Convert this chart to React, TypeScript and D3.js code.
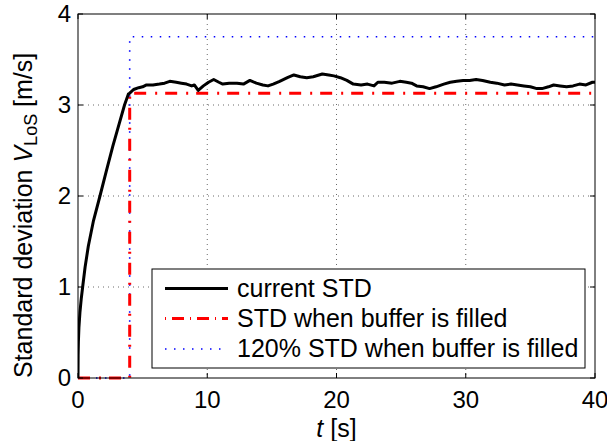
import React from "react";
import * as d3 from "d3";

const riseT = [0, 0.01, 0.03, 0.07, 0.15, 0.25, 0.36, 0.55, 0.8, 1.2, 1.7, 2.2, 2.7, 3.2, 3.6, 3.9, 4.0];
const riseV = [0, 0.25, 0.4, 0.55, 0.72, 0.87, 1.0, 1.22, 1.45, 1.73, 2.0, 2.28, 2.55, 2.8, 3.0, 3.12, 3.13];

const steadyT = [4.3, 4.7, 5.0, 5.3, 5.8, 6.3, 6.7, 7.1, 7.6, 8.0, 8.4, 8.8, 9.0, 9.3, 9.7, 10.1, 10.5, 10.9, 11.2, 11.7, 12.3, 12.8, 13.3, 13.8, 14.3, 14.7, 15.1, 15.6, 16.2, 16.7, 17.2, 17.7, 18.2, 18.9, 19.4, 19.8, 20.3, 20.8, 21.3, 21.9, 22.4, 22.9, 23.2, 23.7, 24.3, 24.9, 25.4, 25.8, 26.2, 26.7, 27.2, 27.7, 28.3, 28.8, 29.3, 29.8, 30.3, 30.8, 31.3, 31.9, 32.4, 33.0, 33.5, 34.0, 34.5, 35.0, 35.5, 35.9, 36.4, 36.8, 37.3, 37.8, 38.3, 38.8, 39.3, 39.8, 40.0];
const steadyV = [3.17, 3.19, 3.2, 3.22, 3.22, 3.23, 3.24, 3.26, 3.25, 3.24, 3.23, 3.21, 3.22, 3.16, 3.21, 3.25, 3.28, 3.25, 3.23, 3.24, 3.24, 3.23, 3.27, 3.24, 3.22, 3.21, 3.23, 3.26, 3.3, 3.33, 3.31, 3.3, 3.31, 3.34, 3.33, 3.32, 3.3, 3.27, 3.23, 3.22, 3.23, 3.21, 3.25, 3.25, 3.24, 3.26, 3.25, 3.24, 3.21, 3.2, 3.18, 3.2, 3.23, 3.25, 3.26, 3.27, 3.27, 3.28, 3.27, 3.25, 3.24, 3.22, 3.23, 3.22, 3.21, 3.2, 3.18, 3.18, 3.2, 3.22, 3.21, 3.2, 3.21, 3.23, 3.22, 3.25, 3.25];

const bufferT = [0, 4, 4, 40];
const bufferV = [0, 0, 3.13, 3.13];
const bufferHighV = [0, 0, 3.75, 3.75];

const xTicks = [0, 10, 20, 30, 40];
const yTicks = [0, 1, 2, 3, 4];

const legendLabels = ["current STD", "STD when buffer is filled", "120% STD when buffer is filled"];

const W = 607;
const H = 441;
const M = { left: 78, right: 595, top: 14, bottom: 378 };
const FONT = "'Liberation Sans', Arial, Helvetica, sans-serif";

export default function App() {
  const x = d3.scaleLinear().domain([0, 40]).range([M.left, M.right]);
  const y = d3.scaleLinear().domain([0, 4]).range([M.bottom, M.top]);

  const stdT = [...riseT, ...steadyT];
  const stdV = [...riseV, ...steadyV];

  const line = d3
    .line<[number, number]>()
    .x((d) => x(d[0]))
    .y((d) => y(d[1]));

  const stdPath = line(stdT.map((t, i) => [t, stdV[i]] as [number, number])) || "";
  const bufPath = line(bufferT.map((t, i) => [t, bufferV[i]] as [number, number])) || "";
  const highPath = line(bufferT.map((t, i) => [t, bufferHighV[i]] as [number, number])) || "";

  const tickLen = 5;
  const legX0 = 152, legY0 = 269, legW = 433, legH = 99;
  const rowsY = [288.5, 318.5, 349];

  return (
    <svg width={W} height={H} style={{ position: "absolute", left: 0, top: 0, background: "#fff" }} fontFamily={FONT}>
      <rect x={0} y={0} width={W} height={H} fill="#fff" />
      <defs>
        <clipPath id="plotclip">
          <rect x={M.left} y={M.top - 2} width={M.right - M.left} height={M.bottom - M.top + 4} />
        </clipPath>
      </defs>
      {/* grid */}
      <g stroke="#444" strokeWidth={0.8} strokeDasharray="1,4">
        {xTicks.slice(1, -1).map((t) => (
          <line key={"gx" + t} x1={x(t)} x2={x(t)} y1={M.top} y2={M.bottom} />
        ))}
        {yTicks.slice(1, -1).map((t) => (
          <line key={"gy" + t} x1={M.left} x2={M.right} y1={y(t)} y2={y(t)} />
        ))}
      </g>
      <g clipPath="url(#plotclip)" fill="none">
        <path d={highPath} stroke="#0000ff" strokeWidth={1.6} strokeDasharray="1.5,7.5" />
        <path d={bufPath} stroke="#ff0000" strokeWidth={3} strokeDasharray="12,9,2,8" />
        <path d={stdPath} stroke="#000" strokeWidth={3} strokeLinejoin="round" />
      </g>
      {/* axes box */}
      <rect x={M.left} y={M.top} width={M.right - M.left} height={M.bottom - M.top} fill="none" stroke="#000" strokeWidth={1} />
      {/* ticks */}
      <g stroke="#000" strokeWidth={1}>
        {xTicks.map((t) => (
          <g key={"tx" + t}>
            <line x1={x(t)} x2={x(t)} y1={M.bottom} y2={M.bottom - tickLen} />
            <line x1={x(t)} x2={x(t)} y1={M.top} y2={M.top + tickLen} />
          </g>
        ))}
        {yTicks.map((t) => (
          <g key={"ty" + t}>
            <line x1={M.left} x2={M.left + tickLen} y1={y(t)} y2={y(t)} />
            <line x1={M.right} x2={M.right - tickLen} y1={y(t)} y2={y(t)} />
          </g>
        ))}
      </g>
      {/* tick labels */}
      <g fontSize={24} fill="#000">
        {xTicks.map((t) => (
          <text key={"lx" + t} x={x(t)} y={408} textAnchor="middle">
            {t}
          </text>
        ))}
        {yTicks.map((t) => (
          <text key={"ly" + t} x={71} y={y(t)} dy="0.35em" textAnchor="end">
            {t}
          </text>
        ))}
      </g>
      {/* axis labels */}
      <text x={(M.left + M.right) / 2} y={437} textAnchor="middle" fontSize={25} fill="#000">
        <tspan fontStyle="italic">t</tspan>
        <tspan> [s]</tspan>
      </text>
      <text transform="translate(31.5,378) rotate(-90)" fontSize={25} fill="#000">
        <tspan>Standard deviation </tspan>
        <tspan fontStyle="italic">V</tspan>
        <tspan fontSize={18} dy={5}>LoS</tspan>
        <tspan dy={-5}> [m/s]</tspan>
      </text>
      {/* legend */}
      <g>
        <rect x={legX0} y={legY0} width={legW} height={legH} fill="#fff" stroke="#000" strokeWidth={1} />
        <line x1={165} x2={228} y1={rowsY[0]} y2={rowsY[0]} stroke="#000" strokeWidth={3} />
        <line x1={165} x2={228} y1={rowsY[1]} y2={rowsY[1]} stroke="#ff0000" strokeWidth={3} strokeDasharray="1,6,12,6" />
        <line x1={165} x2={228} y1={rowsY[2]} y2={rowsY[2]} stroke="#0000ff" strokeWidth={1.6} strokeDasharray="1.5,7.5" />
        {legendLabels.map((s, i) => (
          <text key={s} x={237} y={rowsY[i]} dy="0.33em" fontSize={25} fill="#000">
            {s}
          </text>
        ))}
      </g>
    </svg>
  );
}
